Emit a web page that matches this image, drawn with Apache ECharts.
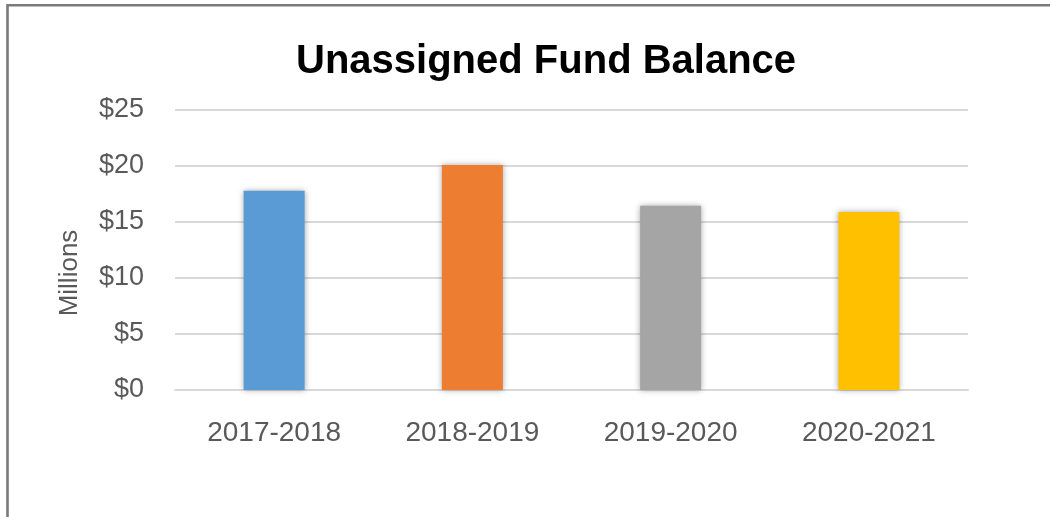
<!DOCTYPE html>
<html>
<head>
<meta charset="utf-8">
<script src="https://cdn.jsdelivr.net/npm/echarts@6/dist/echarts.min.js"></script>
<style>
  html, body { margin: 0; padding: 0; background: #fff; }
  #myChart { width: 1050px; height: 517px; }
</style>
</head>
<body>
<div id="myChart"></div>
<script>
  // fiscal years and balance (millions)
  var years = ['2017-2018', '2018-2019', '2019-2020', '2020-2021'];
  var balance = [17.8, 20.1, 16.45, 15.9];
  var yTicks = [0, 5, 10, 15, 20, 25];

  var barColors = ['#5B9BD5', '#ED7D31', '#A5A5A5', '#FFC000'];

  var myChart = echarts.init(document.getElementById('myChart'));

  myChart.setOption({
    animation: false,
    title: {
      text: 'Unassigned Fund Balance',
      left: 296,
      top: 42,
      padding: 0,
      textStyle: {
        fontFamily: 'Liberation Sans',
        fontWeight: 'bold',
        fontSize: 40,
        color: '#000'
      }
    },
    graphic: [
      {
        type: 'rect',
        shape: { x: 7.5, y: 5.3, width: 1100, height: 600 },
        style: { fill: 'none', stroke: '#7a7a7a', lineWidth: 2.6 }
      },
      {
        // y axis title sits a bit below the plot middle in the original
        type: 'text',
        x: 70,
        y: 273,
        rotation: Math.PI / 2,
        style: {
          text: 'Millions',
          fill: '#595959',
          font: '26px "Liberation Sans"',
          align: 'center',
          verticalAlign: 'middle'
        }
      }
    ],
    grid: {
      left: 175,
      right: 82,
      top: 110,
      bottom: 127
    },
    xAxis: {
      type: 'category',
      data: years,
      axisTick: { show: false },
      axisLine: { lineStyle: { color: '#d9d9d9', width: 2 } },
      axisLabel: {
        margin: 29,
        color: '#595959',
        fontFamily: 'Liberation Sans',
        fontSize: 28
      }
    },
    yAxis: {
      type: 'value',
      min: yTicks[0],
      max: yTicks[yTicks.length - 1],
      interval: 5,
      axisLine: { show: false },
      axisTick: { show: false },
      splitLine: { lineStyle: { color: '#d9d9d9', width: 2 } },
      axisLabel: {
        margin: 31,
        color: '#595959',
        fontFamily: 'Liberation Sans',
        fontSize: 27,
        formatter: function (v) { return '$' + v; }
      }
    },
    series: [
      {
        type: 'bar',
        barWidth: 61,
        data: balance.map(function (v, i) {
          return {
            value: v,
            itemStyle: {
              color: barColors[i],
              shadowBlur: 6,
              shadowColor: 'rgba(0,0,0,0.35)'
            }
          };
        })
      }
    ]
  });
</script>
</body>
</html>
